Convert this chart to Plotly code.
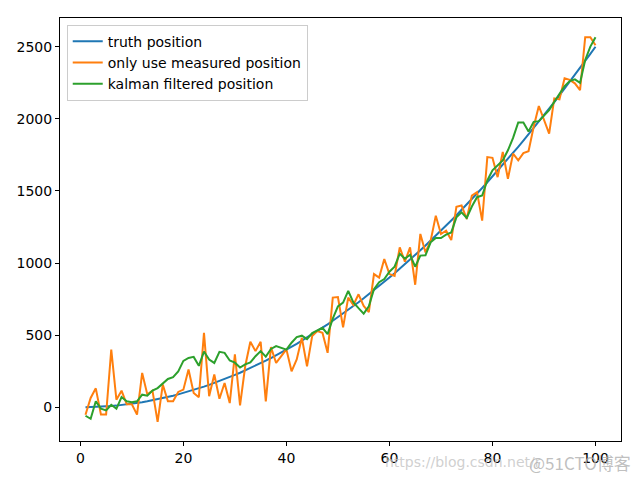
import plotly.graph_objects as go

# time steps
steps = list(range(1, 101))

truth_position = [
    0.25, 1, 2.25, 4, 6.25, 9, 12.25, 16, 20.25, 25,
    30.25, 36, 42.25, 49, 56.25, 64, 72.25, 81, 90.25, 100,
    110.25, 121, 132.25, 144, 156.25, 169, 182.25, 196, 210.25, 225,
    240.25, 256, 272.25, 289, 306.25, 324, 342.25, 361, 380.25, 400,
    420.25, 441, 462.25, 484, 506.25, 529, 552.25, 576, 600.25, 625,
    650.25, 676, 702.25, 729, 756.25, 784, 812.25, 841, 870.25, 900,
    930.25, 961, 992.25, 1024, 1056.25, 1089, 1122.25, 1156, 1190.25, 1225,
    1260.25, 1296, 1332.25, 1369, 1406.25, 1444, 1482.25, 1521, 1560.25, 1600,
    1640.25, 1681, 1722.25, 1764, 1806.25, 1849, 1892.25, 1936, 1980.25, 2025,
    2070.25, 2116, 2162.25, 2209, 2256.25, 2304, 2352.25, 2401, 2450.25, 2500,
]

measured_position = [
    -51, 65, 132, -50, -50, 401, 53, 116, 21, 21,
    -50, 239, 90, 116, -100, 158, 42, 42, 107, 123,
    262, 100, 70, 517, 77, 228, 60, 169, 30, 367,
    14, 285, 455, 390, 455, 42, 418, 308, 355, 402,
    250, 332, 482, 285, 494, 529, 517, 378, 761, 765,
    555, 761, 710, 784, 703, 660, 924, 900, 1028, 924,
    912, 1109, 1010, 1109, 850, 1202, 1074, 1155, 1329, 1202,
    1225, 1160, 1390, 1399, 1306, 1468, 1492, 1295, 1735, 1730,
    1596, 1770, 1585, 1759, 1712, 1762, 1775, 1945, 2089, 1991,
    1898, 2142, 2135, 2281, 2270, 2246, 2199, 2566, 2566, 2510,
]

filtered_position = [
    -58, -79, 42, -9, -21, 18, -9, 72, 42, 35,
    42, 88, 81, 116, 134, 169, 197, 210, 250, 322,
    343, 350, 288, 387, 332, 308, 385, 378, 325, 310,
    276, 298, 312, 355, 390, 352, 405, 425, 410, 400,
    448, 487, 497, 473, 515, 531, 552, 508, 615, 700,
    726, 807, 728, 688, 650, 700, 819, 868, 890, 940,
    975, 1065, 1030, 1058, 975, 1052, 1055, 1144, 1174, 1174,
    1197, 1213, 1317, 1352, 1313, 1392, 1457, 1469, 1573, 1643,
    1677, 1712, 1782, 1868, 1975, 1975, 1912, 1979, 1984, 2021,
    2060, 2118, 2172, 2227, 2262, 2274, 2250, 2408, 2501, 2566,
]

fig = go.Figure()

series = [
    ("truth position", truth_position, "#1f77b4"),
    ("only use measured position", measured_position, "#ff7f0e"),
    ("kalman filtered position", filtered_position, "#2ca02c"),
]
for name, values, color in series:
    fig.add_trace(
        go.Scatter(
            x=steps,
            y=values,
            mode="lines",
            name=name,
            line=dict(color=color, width=2),
        )
    )

axis_style = dict(
    showline=True,
    linecolor="black",
    linewidth=1,
    mirror=True,
    showgrid=False,
    zeroline=False,
    ticks="outside",
    ticklen=4,
    tickcolor="black",
    tickfont=dict(family="DejaVu Sans", size=14, color="black"),
)

fig.update_xaxes(range=[-3.95, 104.95], tickvals=[0, 20, 40, 60, 80, 100], **axis_style)
fig.update_yaxes(range=[-233, 2699], tickvals=[0, 500, 1000, 1500, 2000, 2500], **axis_style)

# watermark in the lower right corner (overlaps the tick labels, as in the screenshot)
fig.add_annotation(
    text="https://blog.csdn.net/r",
    xref="paper", yref="paper", x=0.575, y=-0.05,
    xanchor="left", yanchor="middle", showarrow=False,
    font=dict(family="DejaVu Sans", size=14, color="rgba(195,195,195,0.8)"),
)
fig.add_annotation(
    text="@51CTO博客",
    xref="paper", yref="paper", x=1.021, y=-0.05,
    xanchor="right", yanchor="middle", showarrow=False,
    font=dict(family="Noto Sans CJK SC", size=17, color="rgba(175,175,175,0.8)"),
)

# grey window edge on the right of the screenshot
fig.add_shape(
    type="rect", xref="paper", yref="paper",
    x0=1.0325, x1=1.04, y0=-0.1, y1=1.05,
    fillcolor="#8c8c8c", line=dict(width=0), layer="above",
)

# the page body adds an 8px offset, so the figure is 8px smaller with trimmed left/top margins
fig.update_layout(
    width=634,
    height=472,
    margin=dict(l=52, r=21, t=10, b=39),
    paper_bgcolor="white",
    plot_bgcolor="white",
    font=dict(family="DejaVu Sans", size=14, color="black"),
    legend=dict(
        x=0.012, y=0.984, xanchor="left", yanchor="top",
        bgcolor="rgba(255,255,255,0.8)",
        bordercolor="#cccccc", borderwidth=1,
        font=dict(family="DejaVu Sans", size=14, color="black"),
        tracegroupgap=0, itemwidth=30,
    ),
)

fig.write_html("out.html")
